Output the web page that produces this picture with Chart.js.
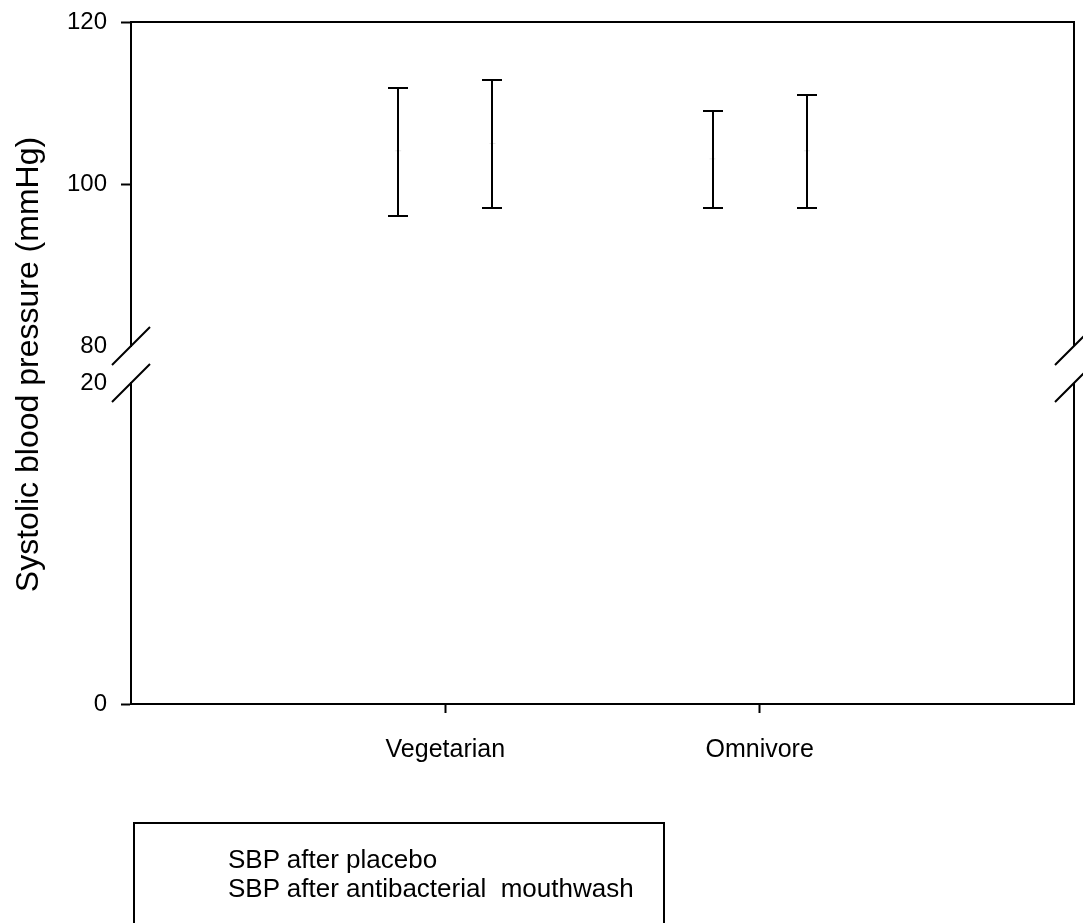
<!DOCTYPE html>
<html>
<head>
<meta charset="utf-8">
<script src="https://cdn.jsdelivr.net/npm/chart.js@4"></script>
<style>
  body { margin: 0; background: #fff; }
  #wrap { position: relative; width: 1083px; height: 923px; overflow: hidden; }
  #legend {
    position: absolute; left: 133px; top: 822px; width: 532px; height: 140px;
    border: 2px solid #000; box-sizing: border-box;
    padding: 21px 0 0 93px;
    font-family: "Liberation Sans", Arial, sans-serif; font-size: 26px; line-height: 29px;
    color: #000; white-space: pre;
  }
</style>
</head>
<body>
<div id="wrap">
  <canvas id="chart" width="1083" height="923"></canvas>
  <div id="legend"></div>
</div>
<script>
// data
const categories = ["Vegetarian", "Omnivore"];
const seriesNames = ["SBP after placebo", "SBP after antibacterial  mouthwash"];
const placeboMean = [104.1, 103.1];
const placeboLow = [96.0, 97.0];
const placeboHigh = [111.9, 109.0];
const mouthwashMean = [105.0, 104.1];
const mouthwashLow = [97.0, 97.0];
const mouthwashHigh = [112.9, 111.0];
const upperTicks = [80, 100, 120];
const lowerTicks = [0, 20];

const FONT = "'Liberation Sans', Arial, sans-serif";
const barOffset = [-0.15, 0.15];

const makeSeries = (mean, low, high, k) => ({
  label: seriesNames[k],
  data: categories.map((c, i) => ({ x: i + 1 + barOffset[k], y: mean[i] })),
  low: low,
  high: high,
  yAxisID: "yHigh",
  pointStyle: "line",
  pointRadius: 3,
  borderColor: "#e4e4e4",
  borderWidth: 1,
  showLine: false,
});

// error bars
const errorBars = {
  id: "errorBars",
  afterDatasetsDraw(chart) {
    const ctx = chart.ctx;
    const xs = chart.scales.x;
    ctx.save();
    ctx.strokeStyle = "#000";
    ctx.lineWidth = 2;
    chart.data.datasets.forEach((ds) => {
      const ys = chart.scales[ds.yAxisID];
      ds.data.forEach((p, i) => {
        const x = Math.round(xs.getPixelForValue(p.x));
        const y1 = Math.round(ys.getPixelForValue(ds.low[i]));
        const y2 = Math.round(ys.getPixelForValue(ds.high[i]));
        ctx.beginPath();
        ctx.moveTo(x, y1); ctx.lineTo(x, y2);
        ctx.moveTo(x - 10, y1); ctx.lineTo(x + 10, y1);
        ctx.moveTo(x - 10, y2); ctx.lineTo(x + 10, y2);
        ctx.stroke();
      });
    });
    ctx.restore();
  },
};

// top/right frame and the axis break marks
const frame = {
  id: "frame",
  afterDraw(chart) {
    const { ctx, chartArea: a } = chart;
    const yBreakTop = chart.scales.yHigh.bottom;
    const yBreakBottom = chart.scales.yLow.top;
    ctx.save();
    ctx.strokeStyle = "#000";
    ctx.lineWidth = 2;
    ctx.beginPath();
    ctx.moveTo(a.left, a.top); ctx.lineTo(a.right, a.top);
    ctx.moveTo(a.right, a.top - 1); ctx.lineTo(a.right, yBreakTop);
    ctx.moveTo(a.right, yBreakBottom); ctx.lineTo(a.right, a.bottom);
    [a.left, a.right].forEach((x) => {
      [yBreakTop, yBreakBottom].forEach((y) => {
        ctx.moveTo(x - 19, y + 19); ctx.lineTo(x + 19, y - 19);
      });
    });
    ctx.stroke();
    ctx.restore();
  },
};

const hideBreakTick = (ctx) =>
  ctx.tick && (ctx.tick.value === 80 || ctx.tick.value === 20) ? "rgba(0,0,0,0)" : "#000";

const fitLeft = (s) => {
  s.width = 131;
  s.paddingTop = 0;
  s.paddingBottom = 0;
};

const yAxis = (min, max, ticks, weight) => ({
  type: "linear",
  position: "left",
  stack: "y",
  stackWeight: weight,
  min: min,
  max: max,
  afterBuildTicks: (s) => { s.ticks = ticks.map((v) => ({ value: v })); },
  afterFit: fitLeft,
  ticks: { color: "#000", font: { family: FONT, size: 24 }, padding: 14 },
  grid: { drawOnChartArea: false, tickLength: 10, tickWidth: 2, tickColor: hideBreakTick },
  border: { display: true, color: "#000", width: 2 },
});

new Chart(document.getElementById("chart"), {
  type: "scatter",
  data: {
    datasets: [
      makeSeries(placeboMean, placeboLow, placeboHigh, 0),
      makeSeries(mouthwashMean, mouthwashLow, mouthwashHigh, 1),
    ],
  },
  options: {
    responsive: false,
    animation: false,
    layout: { padding: { top: 22, right: 9, left: 0, bottom: 0 } },
    plugins: { legend: { display: false }, tooltip: { enabled: false } },
    scales: {
      yLow: yAxis(0, 20, lowerTicks, 321),
      yGap: {
        type: "linear",
        position: "left",
        stack: "y",
        stackWeight: 37,
        afterFit: fitLeft,
        ticks: { display: false },
        grid: { display: false },
        border: { display: false },
        title: {
          display: true,
          text: "Systolic blood pressure (mmHg)",
          color: "#000",
          font: { family: FONT, size: 32 },
          padding: { top: 10, bottom: 0 },
        },
      },
      yHigh: yAxis(80, 120, upperTicks, 324),
      x: {
        type: "linear",
        position: "bottom",
        min: 0,
        max: 3,
        afterBuildTicks: (s) => { s.ticks = categories.map((c, i) => ({ value: i + 1 })); },
        afterFit: (s) => {
          s.height = 219;
          s.paddingLeft = 0;
          s.paddingRight = 0;
        },
        ticks: {
          color: "#000",
          font: { family: FONT, size: 25 },
          padding: 22,
          maxRotation: 0,
          callback: (v) => categories[v - 1],
        },
        grid: { drawOnChartArea: false, tickLength: 9, tickWidth: 2, tickColor: "#000" },
        border: { display: true, color: "#000", width: 2 },
      },
    },
  },
  plugins: [errorBars, frame],
});

document.getElementById("legend").textContent = seriesNames.join("\n");
</script>
</body>
</html>
